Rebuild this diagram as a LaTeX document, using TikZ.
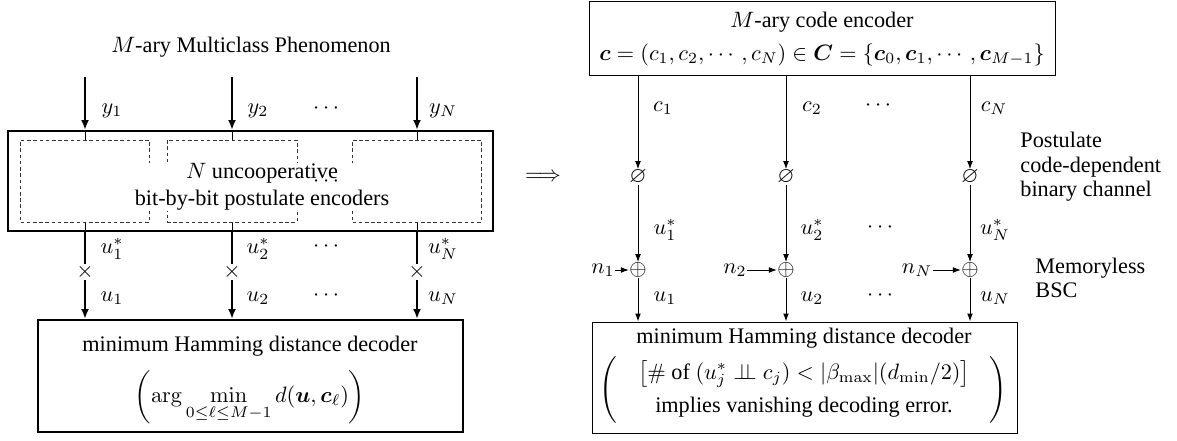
\documentclass[tikz,border=0pt]{standalone}
\usepackage{amsmath,amssymb}
\usepackage[no-math]{fontspec}
\setmainfont{LiberationSerif}[Extension=.ttf,UprightFont=*-Regular,ItalicFont=*-Italic,BoldFont=*-Bold,BoldItalicFont=*-BoldItalic]
\usetikzlibrary{arrows.meta}
\newdimen\px \px=0.45pt
\begin{document}
\begin{tikzpicture}[x=0.45pt,y=-0.45pt,
  thickln/.style={line width=0.9pt},
  thinln/.style={line width=0.45pt},
  arrl/.style={-{Latex[length=4.5pt,width=3.6pt]}},
  arrs/.style={-{Latex[length=3.6pt,width=2.6pt]}},
  box/.style={draw, rectangle, inner sep=0pt},
  dbox/.style={draw=black!80, thinln, dash pattern=on 1.6pt off 1.2pt, rectangle, inner sep=0pt, minimum height=82\px},
  lbl/.style={inner sep=0pt},
  sym/.style={inner sep=0pt},
  every node/.style={font=\fontsize{10}{12}\selectfont}]
\useasboundingbox (0,0) rectangle (1177,440);
% ---------------- left part ----------------
\node[lbl] (title) at (251,47) {$M$-ary Multiclass Phenomenon};
\node[box, thickln, minimum width=485\px, minimum height=100\px] (enc) at (250.5,181) {};
\node[dbox, minimum width=129\px] (d1) at (85,181) {};
\node[dbox, minimum width=130\px] (d2) at (232,181) {};
\node[dbox, minimum width=129\px] (d3) at (417,181) {};
\node[fill=white, inner sep=0.5pt, align=center] (enctext) at (262,187) {$N$ uncooperative\\bit-by-bit postulate encoders};
\node[lbl] (edots) at (328,182) {$\cdots$};
\coordinate (ty1) at (85,77);
\coordinate (ty2) at (232,77);
\coordinate (tyN) at (417,77);
\foreach \i/\d in {1/d1,2/d2,N/d3}{
  \draw[thickln,arrl] (ty\i) -- (ty\i |- enc.north);
  \draw[thinln] (ty\i |- enc.north) -- (\d.north);
}
\node[lbl] (ly1) at (112,111) {$y_1$};
\node[lbl] (ly2) at (258,111) {$y_2$};
\node[lbl] (lyd) at (328,109) {$\cdots$};
\node[lbl] (lyN) at (443,111) {$y_N$};
\node[box, thickln, minimum width=425\px, minimum height=112\px] (dec) at (250.5,376) {};
\node[lbl] (dect1) at (250,346) {minimum Hamming distance decoder};
\node[lbl] (dect2) at (250,397) {$\displaystyle\left(\arg\min_{0\le\ell\le M-1} d(\boldsymbol{u},\boldsymbol{c}_\ell)\right)$};
\node[sym] (x1) at (85,272) {$\times$};
\node[sym] (x2) at (232,272) {$\times$};
\node[sym] (xN) at (417,272) {$\times$};
\foreach \i/\d in {1/d1,2/d2,N/d3}{
  \draw[thinln] (\d.south) -- (\d.south |- enc.south);
  \draw[thickln] (\d.south |- enc.south) -- (x\i.north);
  \draw[thickln,arrl] (x\i.south) -- (x\i |- dec.north);
}
\node[lbl] (lus1) at (112,249) {$u_1^*$};
\node[lbl] (lus2) at (258,249) {$u_2^*$};
\node[lbl] (lusd) at (328,247) {$\cdots$};
\node[lbl] (lusN) at (443,249) {$u_N^*$};
\node[lbl] (lu1) at (112,298) {$u_1$};
\node[lbl] (lu2) at (258,298) {$u_2$};
\node[lbl] (lud) at (328,296) {$\cdots$};
\node[lbl] (luN) at (443,298) {$u_N$};
% implication
\node[lbl] (impl) at (543,177) {$\Longrightarrow$};
% ---------------- right part ----------------
\node[box, thinln, minimum width=466\px, minimum height=74\px] (cenc) at (822,38) {};
\node[lbl, anchor=base] (ct1) at (822,27) {$M$-ary code encoder};
\node[lbl, anchor=base] (ct2) at (822,60) {$\boldsymbol{c}=(c_1,c_2,\cdots,c_N)\in\boldsymbol{C}=\{\boldsymbol{c}_0,\boldsymbol{c}_1,\cdots,\boldsymbol{c}_{M-1}\}$};
\node[box, thinln, minimum width=425\px, minimum height=111\px] (rdec) at (804.5,377.5) {};
\node[lbl] (rdt1) at (804,338) {minimum Hamming distance decoder};
\node[lbl] (rdt2) at (804,374) {$\bigl[\#\text{ of }(u_j^*\perp\!\!\!\perp c_j)<|\beta_{\max}|(d_{\min}/2)\bigr]$};
\node[lbl] (rdt3) at (804,407) {implies vanishing decoding error.};
\node[lbl] (lpar) at (610,390) {$\left(\vcenter{\hbox{\vrule height 29pt width 0pt}}\right.$};
\node[lbl] (rpar) at (997,390) {$\left.\vcenter{\hbox{\vrule height 29pt width 0pt}}\right)$};
\node[sym] (p1) at (638,177) {$\varnothing$};
\node[sym] (p2) at (786,177) {$\varnothing$};
\node[sym] (pN) at (970,177) {$\varnothing$};
\node[sym] (s1) at (638,270) {$\oplus$};
\node[sym] (s2) at (786,270) {$\oplus$};
\node[sym] (sN) at (970,270) {$\oplus$};
\foreach \i in {1,2,N}{
  \draw[thinln,arrs] (p\i |- cenc.south) -- (p\i);
  \draw[thinln,arrs] (p\i) -- (s\i);
  \draw[thinln,arrs] (s\i) -- (s\i |- rdec.north);
}
\node[lbl] (n1) at (603,270) {$n_1$};
\node[lbl] (n2) at (735,270) {$n_2$};
\node[lbl] (nN) at (917,270) {$n_N$};
\draw[thinln,arrs] (n1) -- (s1);
\draw[thinln,arrs] (n2) -- (s2);
\draw[thinln,arrs] (nN) -- (sN);
\node[lbl] (lc1) at (663,108) {$c_1$};
\node[lbl] (lc2) at (812,108) {$c_2$};
\node[lbl] (lcd) at (880,106) {$\cdots$};
\node[lbl] (lcN) at (994,108) {$c_N$};
\node[lbl] (rus1) at (665,230) {$u_1^*$};
\node[lbl] (rus2) at (812,230) {$u_2^*$};
\node[lbl] (rusd) at (882,228) {$\cdots$};
\node[lbl] (rusN) at (995,230) {$u_N^*$};
\node[lbl] (ru1) at (665,298) {$u_1$};
\node[lbl] (ru2) at (812,298) {$u_2$};
\node[lbl] (rud) at (882,296) {$\cdots$};
\node[lbl] (ruN) at (995,298) {$u_N$};
\node[lbl, anchor=west, align=left, font=\fontsize{10}{11}\selectfont] (pcd) at (1020,167) {Postulate\\code-dependent\\binary channel};
\node[lbl, anchor=west, align=left, font=\fontsize{10}{11}\selectfont] (bsc) at (1035,278) {Memoryless\\BSC};
\end{tikzpicture}
\end{document}
